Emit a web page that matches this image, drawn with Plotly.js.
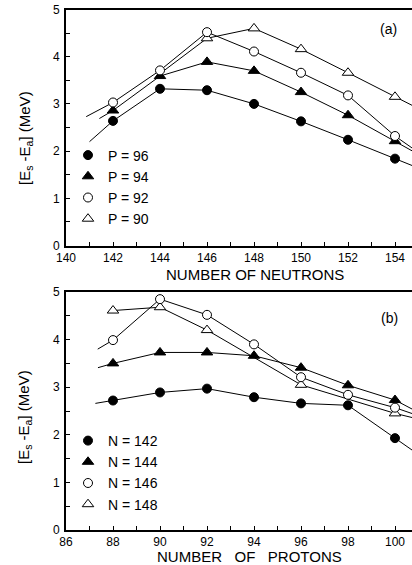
<!DOCTYPE html>
<html>
<head>
<meta charset="utf-8">
<script src="https://cdn.plot.ly/plotly-3.0.1.min.js"></script>
<style>
html,body{margin:0;padding:0;background:#fff;overflow:hidden;}
#chart{width:412px;height:565px;}
</style>
</head>
<body>
<div id="chart"></div>
<script>
// ---- Panel (a): energy vs number of neutrons ----
const neutrons = [142, 144, 146, 148, 150, 152, 154];
const P96 = [2.64, 3.32, 3.29, 3.00, 2.63, 2.24, 1.84];
const P94 = [2.86, 3.59, 3.89, 3.70, 3.25, 2.76, 2.21];
const P92 = [3.03, 3.71, 4.52, 4.11, 3.66, 3.18, 2.32];
const neutronsP90 = [146, 148, 150, 152, 154];
const P90 = [4.39, 4.60, 4.16, 3.66, 3.15];
// line continuation points (start, end) beyond the plotted markers
const P96ext = {x: [141.0, 155], y: [2.20, 1.64]};
const P94ext = {x: [141.42, 155], y: [2.69, 1.93]};
const P92ext = {x: [140.86, 155], y: [2.73, 1.97]};
const P90ext = {x: [144.05, 155], y: [3.66, 2.90]};

// ---- Panel (b): energy vs number of protons ----
const protons = [88, 90, 92, 94, 96, 98, 100];
const N142 = [2.72, 2.89, 2.97, 2.79, 2.66, 2.62, 1.93];
const N144 = [3.50, 3.73, 3.73, 3.66, 3.41, 3.04, 2.73];
const N146 = [3.99, 4.85, 4.52, 3.90, 3.21, 2.84, 2.57];
const protonsN148 = [88, 90, 92, 96, 100];
const N148 = [4.61, 4.68, 4.20, 3.05, 2.45];
const N142ext = {x: [87.25, 101], y: [2.66, 1.585]};
const N144ext = {x: [87.36, 101], y: [3.41, 2.47]};
const N146ext = {x: [87.35, 101], y: [3.80, 2.40]};
const N148ext = {x: [null, 101], y: [null, 2.33]};

const FONT = 'Liberation Sans, Arial, Helvetica, sans-serif';

function lineTrace(xs, ys, ext, xa, ya) {
  const x = [], y = [];
  if (ext.x[0] !== null) { x.push(ext.x[0]); y.push(ext.y[0]); }
  xs.forEach((v, i) => { x.push(v); y.push(ys[i]); });
  if (ext.x[1] !== null) { x.push(ext.x[1]); y.push(ext.y[1]); }
  return {x, y, xaxis: xa, yaxis: ya, mode: 'lines', type: 'scatter',
          line: {color: '#000', width: 1}, showlegend: false, hoverinfo: 'skip'};
}
function markTrace(xs, ys, name, symbol, filled, xa, ya, legend, rank) {
  return {x: xs, y: ys, xaxis: xa, yaxis: ya, mode: 'markers', type: 'scatter',
          name: name, legend: legend, legendrank: rank,
          marker: {symbol: symbol, size: symbol.indexOf('triangle') === 0 ? 10 : 9,
                   color: filled ? '#000' : '#fff',
                   line: {color: '#000', width: 1}}};
}

const data = [
  lineTrace(neutrons, P96, P96ext, 'x', 'y'),
  lineTrace(neutrons, P94, P94ext, 'x', 'y'),
  lineTrace(neutrons, P92, P92ext, 'x', 'y'),
  lineTrace(neutronsP90, P90, P90ext, 'x', 'y'),
  lineTrace(protons, N142, N142ext, 'x2', 'y2'),
  lineTrace(protons, N144, N144ext, 'x2', 'y2'),
  lineTrace(protons, N146, N146ext, 'x2', 'y2'),
  lineTrace(protonsN148, N148, N148ext, 'x2', 'y2'),
  markTrace(neutrons, P96, 'P = 96', 'circle', true, 'x', 'y', 'legend', 1),
  markTrace(neutrons, P94, 'P = 94', 'triangle-up', true, 'x', 'y', 'legend', 2),
  markTrace(neutronsP90, P90, 'P = 90', 'triangle-up', false, 'x', 'y', 'legend', 4),
  markTrace(neutrons, P92, 'P = 92', 'circle', false, 'x', 'y', 'legend', 3),
  markTrace(protons, N142, 'N = 142', 'circle', true, 'x2', 'y2', 'legend2', 1),
  markTrace(protons, N144, 'N = 144', 'triangle-up', true, 'x2', 'y2', 'legend2', 2),
  markTrace(protonsN148, N148, 'N = 148', 'triangle-up', false, 'x2', 'y2', 'legend2', 4),
  markTrace(protons, N146, 'N = 146', 'circle', false, 'x2', 'y2', 'legend2', 3)
];

const W = 412, H = 565, ML = 66;
const px = v => (v - ML) / (W - ML);
const py = v => 1 - v / H;

function xAxis(r, t0, anchor) {
  return {range: r, anchor: anchor, tick0: t0, dtick: 2, ticks: 'inside', ticklen: 4,
          tickwidth: 1, tickcolor: '#000', showline: true, linewidth: 2, linecolor: '#000',
          mirror: true, showgrid: false, zeroline: false,
          tickfont: {family: FONT, size: 12, color: '#000'},
          minor: {dtick: 1, tick0: t0, ticks: 'inside', ticklen: 4, tickwidth: 1, tickcolor: '#000', showgrid: false}};
}
function yAxis(dom, anchor) {
  return {range: [0, 5], domain: dom, anchor: anchor, dtick: 1, ticks: 'inside', ticklen: 4,
          tickwidth: 1, tickcolor: '#000', showline: true, linewidth: 2, linecolor: '#000',
          showgrid: false, zeroline: false, ticklabelstandoff: 2,
          tickfont: {family: FONT, size: 12, color: '#000'},
          minor: {dtick: 0.5, ticks: 'inside', ticklen: 4, tickwidth: 1, tickcolor: '#000', showgrid: false}};
}

const ann = (text, x, y, size, angle) => ({text: text, x: x, y: y, xref: 'paper', yref: 'paper',
  showarrow: false, xanchor: 'center', yanchor: 'middle', textangle: angle || 0,
  font: {family: FONT, size: size, color: '#000'}});

const layout = {
  width: W, height: H,
  margin: {l: ML, r: 0, t: 0, b: 0},
  paper_bgcolor: '#fff', plot_bgcolor: '#fff',
  font: {family: FONT, color: '#000'},
  xaxis: xAxis([140, 140 + (W - ML) / 23.5], 140, 'y'),
  yaxis: yAxis([py(245.5), py(9.5)], 'x'),
  xaxis2: xAxis([86, 86 + (W - ML) / 23.5], 86, 'y2'),
  yaxis2: yAxis([py(530), py(292)], 'x2'),
  legend: {x: px(68), y: py(139.5), xanchor: 'left', yanchor: 'top', bgcolor: 'rgba(0,0,0,0)',
           font: {family: FONT, size: 14, color: '#000'}, traceorder: 'normal', itemclick: false},
  legend2: {x: px(68), y: py(425), xanchor: 'left', yanchor: 'top', bgcolor: 'rgba(0,0,0,0)',
           font: {family: FONT, size: 14, color: '#000'}, traceorder: 'normal', itemclick: false},
  annotations: [
    ann('NUMBER OF NEUTRONS', px(254.5), py(274.5), 15),
    ann('NUMBER\u00a0\u00a0\u00a0OF\u00a0\u00a0\u00a0PROTONS', px(249), py(556), 15),
    ann('[E<sub>s</sub> -E<sub>a</sub>] (MeV)', px(25), py(138), 15, -90),
    ann('[E<sub>s</sub> -E<sub>a</sub>] (MeV)', px(25), py(417), 15, -90),
    ann('(a)', px(388), py(29.5), 14),
    ann('(b)', px(389), py(317.5), 14)
  ],
  showlegend: true
};

Plotly.newPlot('chart', data, layout, {staticPlot: true, displayModeBar: false});
</script>
</body>
</html>
